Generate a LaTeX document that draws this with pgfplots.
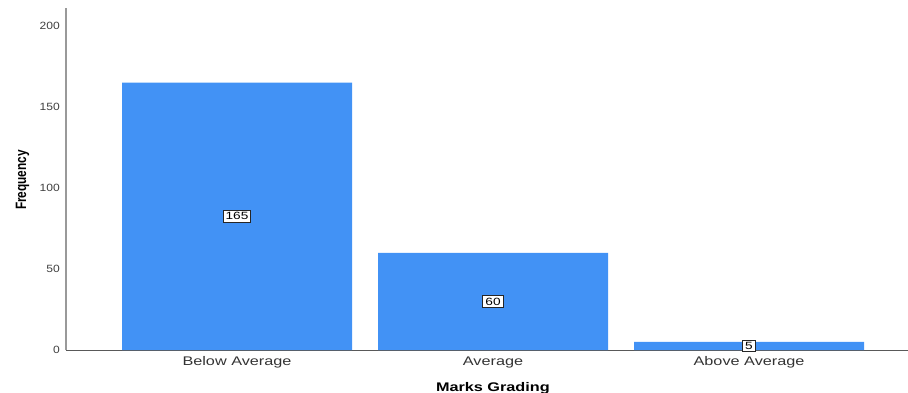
\documentclass[border=0pt]{standalone}
\usepackage{fontspec}
\setmainfont{Liberation Sans}
\usepackage{pgfplots}
\usepackage{pgfplotstable}
\pgfplotsset{compat=1.18}
\newfontfamily\xtfont[FakeStretch=1.3]{Liberation Sans}
\newfontfamily\ytfont[FakeStretch=1.15]{Liberation Sans}
\newfontfamily\ylfont[FakeStretch=0.79]{Liberation Sans}
\definecolor{barblue}{RGB}{66,146,245}
\pgfplotstableread{
x v h
0 165 82.5
1 60 30
2 5 2.5
}\grading
\begin{document}
\begin{tikzpicture}
\path[use as bounding box] (-66bp,-43bp) rectangle (842bp,350bp);
\begin{axis}[
  scale only axis, width=842bp, height=342bp,
  xmin=-0.668, xmax=2.621, ymin=0, ymax=211.1,
  axis x line=bottom, axis y line=left, axis line style={-},
  x axis line style={draw=black!65, line width=1bp},
  y axis line style={draw=black!40, line width=1.3bp},
  xtick={0,1,2}, xticklabels={Below Average, Average, Above Average},
  ytick={0,50,100,150,200},
  major tick length=0,
  /pgf/number format/assume math mode=true,
  xticklabel style={font=\xtfont\fontsize{12.5bp}{14bp}\selectfont, text=black!80, anchor=north, inner sep=0pt, yshift=-6.5bp},
  yticklabel style={font=\ytfont\fontsize{10.5bp}{12bp}\selectfont, text=black!75, anchor=east, inner sep=0pt, xshift=-6bp},
  xlabel={Marks Grading},
  xlabel style={at={(axis description cs:0.507,0)}, anchor=base, yshift=-41bp, font=\xtfont\fontsize{12.5bp}{14bp}\selectfont\bfseries},
  ylabel={Frequency},
  ylabel style={at={(axis description cs:-0.0475,0.497)}, anchor=base, font=\ylfont\fontsize{15bp}{17bp}\selectfont\bfseries},
  clip=false,
]
\addplot[ybar, bar width=230bp, bar shift=0pt, fill=barblue, draw=none] table[x=x, y=v] {\grading};
\addplot[draw=none, mark=none, nodes near coords, point meta=explicit, nodes near coords align={center},
  every node near coord/.style={anchor=center, fill=white, draw=black!85, text=black, line width=0.9bp, inner xsep=2.5bp, inner ysep=2.2bp, font=\xtfont\fontsize{10.5bp}{11bp}\selectfont}]
  table[x=x, y=h, meta=v] {\grading};
\end{axis}
\end{tikzpicture}
\end{document}
